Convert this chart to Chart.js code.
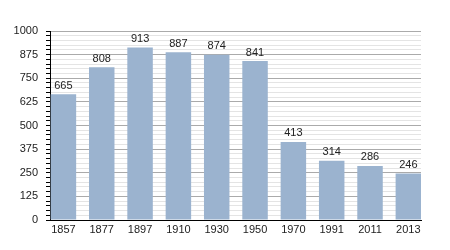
<!DOCTYPE html>
<html>
<head>
<meta charset="utf-8">
<script src="https://cdn.jsdelivr.net/npm/chart.js@4/dist/chart.umd.min.js"></script>
<style>
  html, body { margin: 0; padding: 0; background: #fff; }
  #wrap { width: 450px; height: 250px; }
</style>
</head>
<body>
<div id="wrap"><canvas id="chart"></canvas></div>
<script>
// population by census year
const years = ['1857', '1877', '1897', '1910', '1930', '1950', '1970', '1991', '2011', '2013'];
const population = [665, 808, 913, 887, 874, 841, 413, 314, 286, 246];
const yMax = 1000;
const yMajorStep = 125;
const yMinorStep = 25;

const FONT = "'Liberation Sans', Arial, sans-serif";

// draws the value above each bar
const valueLabels = {
  id: 'valueLabels',
  afterDatasetsDraw(chart) {
    const ctx = chart.ctx;
    const meta = chart.getDatasetMeta(0);
    ctx.save();
    ctx.font = '11px ' + FONT;
    ctx.fillStyle = '#222';
    ctx.textAlign = 'center';
    ctx.textBaseline = 'bottom';
    meta.data.forEach((bar, i) => {
      ctx.fillText(String(population[i]), bar.x, bar.y - 3);
    });
    ctx.restore();
  }
};

new Chart(document.getElementById('chart'), {
  type: 'bar',
  data: {
    datasets: [{
      data: population.map((v, i) => ({ x: i, y: v })),
      backgroundColor: '#9bb3cf',
      borderWidth: 0,
      categoryPercentage: 1,
      barPercentage: 0.665
    }]
  },
  options: {
    responsive: true,
    maintainAspectRatio: false,
    animation: false,
    layout: { padding: { left: 0, right: 29, top: 31, bottom: 0 } },
    plugins: { legend: { display: false }, tooltip: { enabled: false } },
    scales: {
      x: {
        type: 'linear',
        offset: false,
        min: -0.35,
        max: 9.33,
        grid: { display: false, drawTicks: false, tickLength: 0 },
        border: { display: true, color: '#000', width: 1 },
        ticks: {
          stepSize: 1,
          includeBounds: false,
          autoSkip: false,
          maxRotation: 0,
          padding: 3,
          color: '#222',
          font: { family: FONT, size: 11 },
          callback: v => years[v] ?? ''
        },
        afterFit: s => { s.height = 30; }
      },
      y: {
        min: 0,
        max: yMax,
        grid: {
          color: c => c.tick.value % yMajorStep === 0 ? '#aaaaaa' : '#e4e4e4',
          tickColor: '#000',
          tickLength: 4
        },
        border: { display: true, color: '#000', width: 1 },
        ticks: {
          stepSize: yMinorStep,
          autoSkip: false,
          padding: 8,
          color: '#222',
          font: { family: FONT, size: 11 },
          callback: v => v % yMajorStep === 0 ? v : ''
        },
        afterFit: s => { s.width = 50; }
      }
    }
  },
  plugins: [valueLabels]
});
</script>
</body>
</html>
